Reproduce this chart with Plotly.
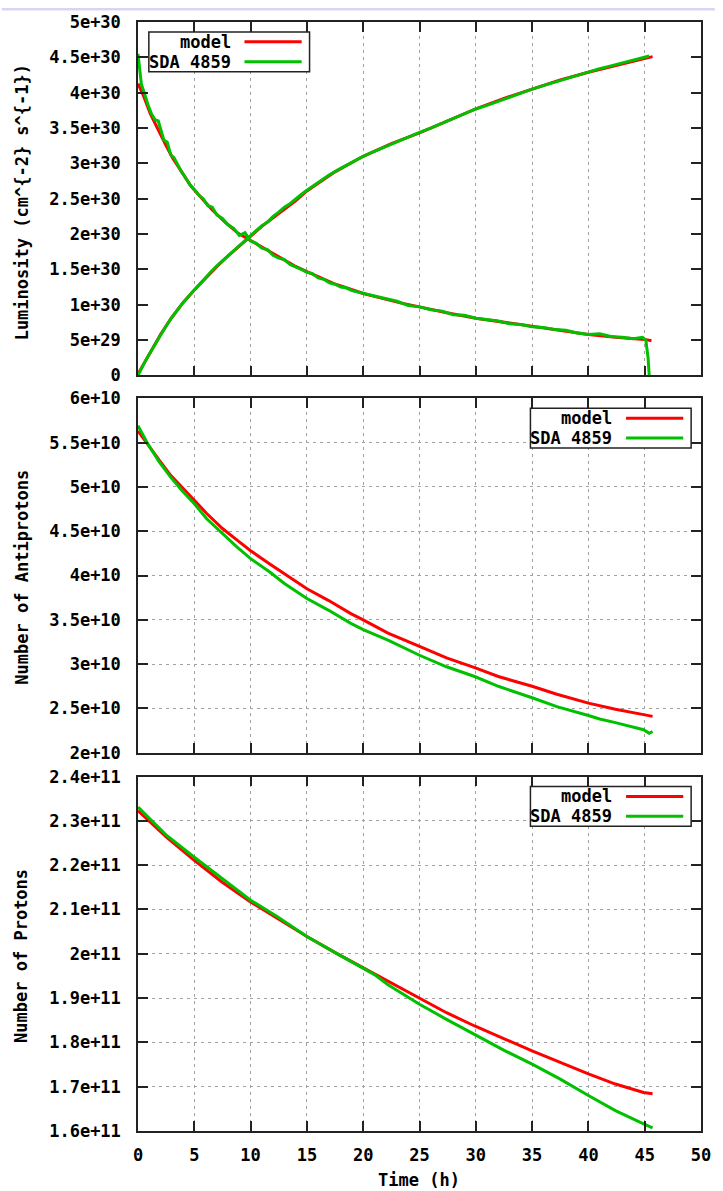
import plotly.graph_objects as go

# ---------------- data ----------------
# Panel 1: luminosity (cm^-2 s^-1), values in units of 1e30
lum_model_t = [0, 0.5, 1.1, 1.7, 2.5, 3.1, 4.0, 4.7, 5.7, 6.6, 7.8, 8.9, 10, 11.5, 12.7,
               13.9, 15, 16.2, 17.4, 18.5, 20, 21.7, 23.2, 25, 27.3, 30, 32.5, 35, 37.4,
               40, 42.4, 45, 45.6]
lum_model_v = [4.13, 3.95, 3.70, 3.50, 3.25, 3.07, 2.85, 2.68, 2.50, 2.34, 2.16, 2.01, 1.91,
               1.77, 1.66, 1.55, 1.47, 1.38, 1.30, 1.24, 1.16, 1.09, 1.03, 0.97, 0.89, 0.81,
               0.75, 0.69, 0.64, 0.58, 0.54, 0.51, 0.49]
lum_data_t = [0, 0.15, 0.3, 0.6, 0.9, 1.2, 1.5, 1.8, 2.0, 2.3, 2.6, 2.9, 3.2, 3.5, 3.8, 4.2,
              4.6, 5.0, 5.4, 5.8, 6.2, 6.6, 7.0, 7.5, 8.0, 8.5, 9.0, 9.5, 10, 10.5, 11, 11.5,
              12, 12.5, 13, 13.5, 14, 14.5, 15, 15.5, 16, 16.5, 17, 17.5, 18, 18.5, 19, 19.5,
              20, 21, 22, 23, 24, 25, 26, 27, 28, 29, 30, 31, 32, 33, 34, 35, 36, 37, 38, 39,
              40, 41, 42, 43, 44, 44.8, 45.1, 45.3, 45.4]
lum_data_v = [4.55, 4.30, 4.12, 3.98, 3.82, 3.70, 3.62, 3.60, 3.50, 3.33, 3.30, 3.12, 3.08,
              2.98, 2.90, 2.80, 2.70, 2.63, 2.55, 2.50, 2.40, 2.38, 2.27, 2.22, 2.13, 2.08,
              1.98, 2.02, 1.90, 1.87, 1.80, 1.78, 1.70, 1.66, 1.64, 1.57, 1.54, 1.50, 1.46,
              1.44, 1.38, 1.36, 1.31, 1.29, 1.25, 1.24, 1.20, 1.18, 1.16, 1.12, 1.08, 1.05,
              0.99, 0.97, 0.93, 0.91, 0.86, 0.85, 0.81, 0.79, 0.77, 0.73, 0.72, 0.69, 0.68,
              0.65, 0.64, 0.60, 0.58, 0.59, 0.55, 0.54, 0.52, 0.54, 0.50, 0.25, 0.0]
int_model_t = [0, 1, 2, 3, 4, 5, 6, 7, 8, 9, 10, 11, 12, 13, 14, 15, 17.5, 20, 22.5, 25,
               27.5, 30, 32.5, 35, 37.5, 40, 42.5, 45, 45.7]
int_model_v = [0.02, 0.31, 0.58, 0.82, 1.03, 1.21, 1.38, 1.54, 1.69, 1.83, 1.97, 2.11, 2.23,
               2.35, 2.47, 2.61, 2.88, 3.10, 3.28, 3.43, 3.60, 3.77, 3.92, 4.05, 4.18, 4.29,
               4.39, 4.49, 4.51]
int_data_t = [0, 0.3, 0.7, 1, 1.5, 2, 2.5, 3, 3.5, 4, 4.5, 5, 5.5, 6, 6.5, 7, 7.5, 8, 8.5, 9,
              9.5, 10, 10.5, 11, 11.5, 12, 12.5, 13, 13.5, 14, 14.5, 15, 16, 17, 18, 19, 20,
              21, 22, 23, 24, 25, 26, 27, 28, 29, 30, 31, 32, 33, 34, 35, 36, 37, 38, 39, 40,
              41, 42, 43, 44, 45, 45.4]
int_data_v = [0.0, 0.10, 0.22, 0.30, 0.44, 0.57, 0.70, 0.82, 0.93, 1.03, 1.12, 1.21, 1.30,
              1.39, 1.47, 1.55, 1.62, 1.70, 1.76, 1.84, 1.91, 1.98, 2.05, 2.12, 2.17, 2.25,
              2.31, 2.38, 2.43, 2.50, 2.56, 2.62, 2.73, 2.84, 2.93, 3.02, 3.10, 3.17, 3.24,
              3.31, 3.37, 3.44, 3.50, 3.57, 3.63, 3.70, 3.77, 3.82, 3.88, 3.94, 4.00, 4.05,
              4.10, 4.15, 4.20, 4.25, 4.30, 4.34, 4.38, 4.42, 4.46, 4.50, 4.52]

# Panel 2: number of antiprotons, units of 1e10
pbar_model_t = [0, 0.9, 1.9, 2.9, 3.9, 5, 6.1, 7.5, 8.8, 10, 11.7, 13, 15, 16.9, 18.9, 20,
                22.2, 25, 27.4, 29.9, 32, 35, 37.2, 40, 42.4, 44.9, 45.7]
pbar_model_v = [5.63, 5.48, 5.30, 5.13, 5.00, 4.85, 4.70, 4.53, 4.40, 4.28, 4.13, 4.02, 3.85,
                3.72, 3.57, 3.50, 3.35, 3.20, 3.07, 2.96, 2.86, 2.75, 2.66, 2.56, 2.49, 2.43,
                2.41]
pbar_data_t = [0, 0.9, 1.9, 2.9, 3.9, 5, 6.1, 7.5, 8.8, 10, 11.7, 13, 15, 16.9, 18.9, 20,
               22.2, 25, 27.4, 29.9, 32, 35, 37.2, 40, 41, 42.4, 44.9, 45.4, 45.7]
pbar_data_v = [5.69, 5.48, 5.28, 5.11, 4.96, 4.81, 4.64, 4.47, 4.32, 4.19, 4.04, 3.91, 3.74,
               3.61, 3.46, 3.39, 3.27, 3.10, 2.97, 2.86, 2.75, 2.62, 2.52, 2.42, 2.38, 2.34,
               2.26, 2.22, 2.24]

# Panel 3: number of protons, units of 1e11
p_model_t = [0, 2.55, 5, 7.45, 10, 12.35, 15, 17.55, 20, 22.2, 25, 27.4, 29.9, 32.6, 35,
             37.5, 40, 42.4, 44.9, 45.7]
p_model_v = [2.323, 2.263, 2.211, 2.162, 2.117, 2.080, 2.039, 2.002, 1.968, 1.938, 1.900,
             1.867, 1.837, 1.807, 1.781, 1.755, 1.729, 1.706, 1.687, 1.684]
p_data_t = [0, 2.55, 5, 7.45, 10, 12.35, 15, 17.55, 20, 21, 22.2, 25, 27.4, 29.9, 32.6, 35,
            37.5, 40, 42.4, 44.9, 45.7]
p_data_v = [2.331, 2.267, 2.218, 2.170, 2.121, 2.084, 2.039, 2.002, 1.968, 1.953, 1.930,
            1.886, 1.852, 1.818, 1.781, 1.751, 1.717, 1.680, 1.646, 1.616, 1.607]

# ticks
x_ticks = [0, 5, 10, 15, 20, 25, 30, 35, 40, 45, 50]
x_ticklabels = ["0", "5", "10", "15", "20", "25", "30", "35", "40", "45", "50"]
y1_ticks = [0, 0.5e30, 1e30, 1.5e30, 2e30, 2.5e30, 3e30, 3.5e30, 4e30, 4.5e30, 5e30]
y1_ticklabels = ["0", "5e+29", "1e+30", "1.5e+30", "2e+30", "2.5e+30", "3e+30", "3.5e+30",
                 "4e+30", "4.5e+30", "5e+30"]
y2_ticks = [2e10, 2.5e10, 3e10, 3.5e10, 4e10, 4.5e10, 5e10, 5.5e10, 6e10]
y2_ticklabels = ["2e+10", "2.5e+10", "3e+10", "3.5e+10", "4e+10", "4.5e+10", "5e+10",
                 "5.5e+10", "6e+10"]
y3_ticks = [1.6e11, 1.7e11, 1.8e11, 1.9e11, 2.0e11, 2.1e11, 2.2e11, 2.3e11, 2.4e11]
y3_ticklabels = ["1.6e+11", "1.7e+11", "1.8e+11", "1.9e+11", "2e+11", "2.1e+11", "2.2e+11",
                 "2.3e+11", "2.4e+11"]

series_names = ["model", "SDA 4859"]
y_titles = ["Luminosity (cm^{-2} s^{-1})", "Number of Antiprotons", "Number of Protons"]
x_title = "Time (h)"

# ---------------- layout geometry ----------------
W, H = 723, 1191
L, R, T, B = 138, 14, 14, 60
PW, PH = W - L - R, H - T - B


def px(x):
    return (x - L) / PW


def py(y):
    return (H - B - y) / PH


RED = "#ff0000"
GREEN = "#00c000"
FONT = dict(family="DejaVu Sans Mono", size=17, color="#000000", weight="bold")
AX = "#222222"

fig = go.Figure()


def add(t, v, scale, color, xa, ya):
    fig.add_trace(go.Scatter(x=t, y=[val * scale for val in v], mode="lines",
                             line=dict(color=color, width=3), xaxis=xa, yaxis=ya,
                             showlegend=False, hoverinfo="skip"))


add(lum_model_t, lum_model_v, 1e30, RED, "x", "y")
add(int_model_t, int_model_v, 1e30, RED, "x", "y")
add(lum_data_t, lum_data_v, 1e30, GREEN, "x", "y")
add(int_data_t, int_data_v, 1e30, GREEN, "x", "y")
add(pbar_model_t, pbar_model_v, 1e10, RED, "x2", "y2")
add(pbar_data_t, pbar_data_v, 1e10, GREEN, "x2", "y2")
add(p_model_t, p_model_v, 1e11, RED, "x3", "y3")
add(p_data_t, p_data_v, 1e11, GREEN, "x3", "y3")

common = dict(showline=True, linecolor=AX, linewidth=1.5, mirror="ticks", ticks="inside",
              ticklen=10, tickwidth=1.5, tickcolor=AX, zeroline=False, tickfont=FONT,
              gridcolor="#a0a0a0", gridwidth=1, griddash="3px,4px")


def xax(anchor, labels):
    return dict(common, anchor=anchor, domain=[0, 1], range=[0, 50], tickmode="array",
                tickvals=x_ticks, ticktext=x_ticklabels, showticklabels=labels,
                showgrid=True, ticklabelstandoff=8)


def yax(anchor, dom, rng, tv, tt, grid):
    return dict(common, anchor=anchor, domain=dom, range=rng, tickmode="array",
                tickvals=tv, ticktext=tt, showgrid=grid, ticklabelstandoff=12)


fig.update_layout(
    width=W, height=H, margin=dict(l=L, r=R, t=T, b=B, pad=0),
    paper_bgcolor="white", plot_bgcolor="white", showlegend=False,
    xaxis=xax("y", False), xaxis2=xax("y2", False), xaxis3=xax("y3", True),
    yaxis=yax("x", [py(370), 1], [0, 5e30], y1_ticks, y1_ticklabels, False),
    yaxis2=yax("x2", [py(750), py(393)], [2e10, 6e10], y2_ticks, y2_ticklabels, True),
    yaxis3=yax("x3", [0, py(774)], [1.6e11, 2.4e11], y3_ticks, y3_ticklabels, True),
)

shapes = []
annots = []

# top thin lavender strip
shapes.append(dict(type="rect", xref="paper", yref="paper", x0=px(0), x1=px(W),
                   y0=py(2.5), y1=py(0), fillcolor="#d6d6f4", line=dict(width=0),
                   layer="above"))

# keys (gnuplot style: text then sample line)
for (bx, by) in [(149, 24), (536, 403), (536, 784)]:
    shapes.append(dict(type="rect", xref="paper", yref="paper", x0=px(bx), x1=px(bx + 163),
                       y0=py(by + 40), y1=py(by), fillcolor="white",
                       line=dict(color=AX, width=1.5), layer="above"))
    for i, (name, col) in enumerate(zip(series_names, [RED, GREEN])):
        ry = by + 10 + 20 * i
        shapes.append(dict(type="line", xref="paper", yref="paper", x0=px(bx + 97),
                           x1=px(bx + 155), y0=py(ry), y1=py(ry),
                           line=dict(color=col, width=3), layer="above"))
        annots.append(dict(text=name, xref="paper", yref="paper", x=px(bx + 85), y=py(ry),
                           xanchor="right", yanchor="middle", showarrow=False, font=FONT))

# axis titles
for title, cy in zip(y_titles, [196, 573, 955]):
    annots.append(dict(text=title, xref="paper", yref="paper", x=px(20), y=py(cy),
                       xanchor="center", yanchor="middle", textangle=-90, showarrow=False,
                       font=FONT))
annots.append(dict(text=x_title, xref="paper", yref="paper", x=px(423), y=py(1180),
                   xanchor="center", yanchor="middle", showarrow=False, font=FONT))

fig.update_layout(shapes=shapes, annotations=annots)
fig.write_html("out.html",
               config={"displayModeBar": False},
               post_script="document.body.style.margin='0';document.body.style.padding='0';"
                           "document.documentElement.style.overflow='hidden';")
